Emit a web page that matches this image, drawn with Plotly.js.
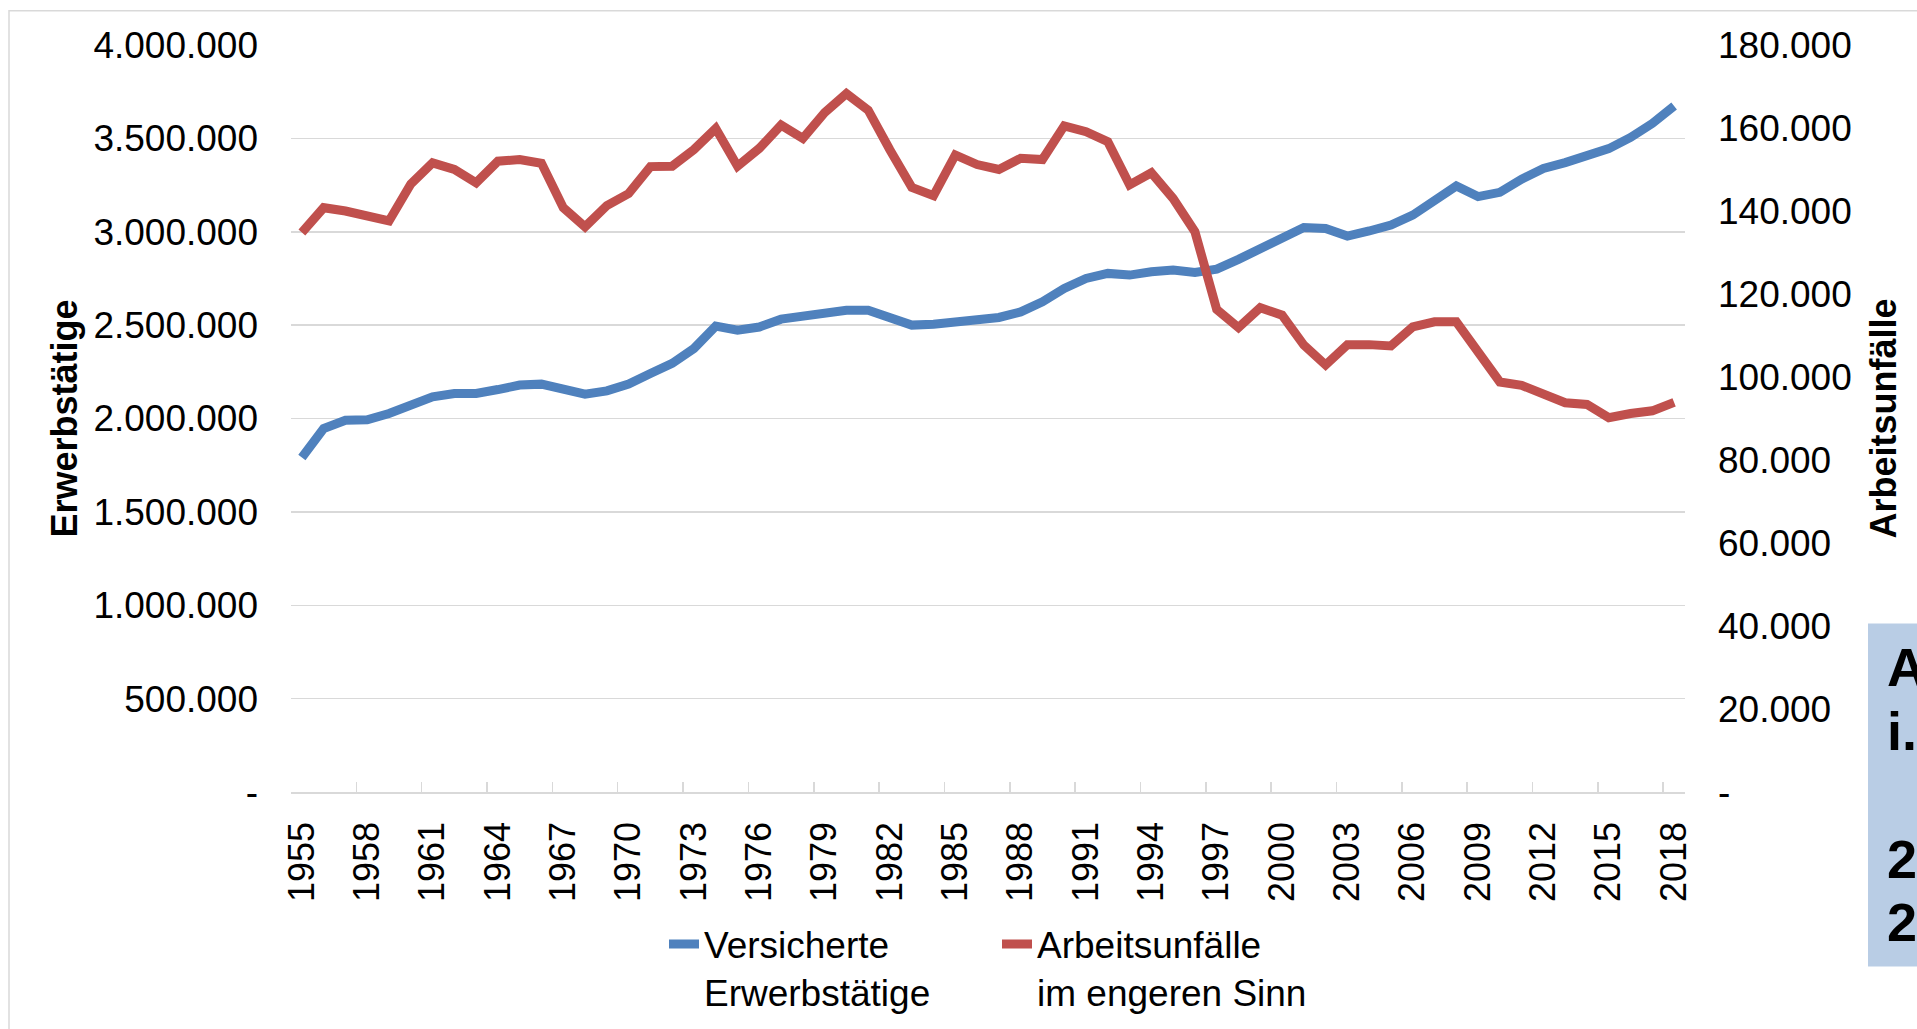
<!DOCTYPE html>
<html>
<head>
<meta charset="utf-8">
<script src="https://cdn.plot.ly/plotly-3.0.1.min.js"></script>
<style>
  html, body { margin: 0; padding: 0; background: #ffffff; overflow: hidden; }
  #chart { width: 1917px; height: 1029px; }
</style>
</head>
<body>
<div id="chart"></div>
<script>
// ---- data ----
const years = [
  "1955","1956","1957","1958","1959","1960","1961","1962","1963","1964",
  "1965","1966","1967","1968","1969","1970","1971","1972","1973","1974",
  "1975","1976","1977","1978","1979","1980","1981","1982","1983","1984",
  "1985","1986","1987","1988","1989","1990","1991","1992","1993","1994",
  "1995","1996","1997","1998","1999","2000","2001","2002","2003","2004",
  "2005","2006","2007","2008","2009","2010","2011","2012","2013","2014",
  "2015","2016","2017","2018"
];
const versicherteErwerbstaetige = [
  1791000,1946000,1991000,1993000,2027000,2071000,2116000,2134000,2134000,2155000,
  2179000,2184000,2152000,2130000,2148000,2184000,2241000,2295000,2375000,2495000,
  2473000,2490000,2532000,2550000,2566000,2580000,2580000,2541000,2500000,2505000,
  2518000,2536000,2541000,2571000,2625000,2696000,2750000,2777000,2768000,2786000,
  2795000,2782000,2800000,2852000,2911000,2959000,3023000,3018000,2977000,3004000,
  3036000,3089000,3164000,3245000,3188000,3211000,3282000,3339000,3370000,3402000,
  3445000,3505000,3580000,3673000
];
const arbeitsunfaelle = [
  134800,140800,140000,139000,137600,146500,151600,150000,146800,152000,
  152400,151500,140800,136200,141300,144200,150700,150800,154800,159900,
  150800,155100,160700,157500,163700,168300,164300,154700,145700,143700,
  153500,151200,150000,152700,152400,160500,159100,156700,146300,149200,
  143000,135000,116300,111900,116700,114900,107700,102900,107800,107800,
  107500,112100,113300,113300,105700,98800,98000,96000,93800,93400,
  90200,91200,91850,93900
];
const xTickYears = ["1955","1958","1961","1964","1967","1970","1973","1976","1979","1982",
  "1985","1988","1991","1994","1997","2000","2003","2006","2009","2012","2015","2018"];
const leftTickVals = [0,500000,1000000,1500000,2000000,2500000,3000000,3500000,4000000];
const leftTickText = ["-","500.000","1.000.000","1.500.000","2.000.000","2.500.000","3.000.000","3.500.000","4.000.000"];
const rightTickVals = [0,20000,40000,60000,80000,100000,120000,140000,160000,180000];
const rightTickText = ["-","20.000","40.000","60.000","80.000","100.000","120.000","140.000","160.000","180.000"];
const seriesNames = ["Versicherte<br>Erwerbstätige", "Arbeitsunfälle<br>im engeren Sinn"];
const boxLines = ["A", "i.", "2", "2"];

// ---- layout geometry (pixels) ----
const W = 1917, H = 1029;
const ML = 291, MR = 232, MT = 45, MB = 236.5;
const PW = W - ML - MR, PH = H - MT - MB;
const px = v => (v - ML) / PW;
const py = v => (H - MB - v) / PH;

const FONT = "Liberation Sans, Arial, sans-serif";
const GRID = "#d9d9d9";

const traces = [
  {
    type: "scatter", mode: "lines", name: seriesNames[0],
    x: years, y: versicherteErwerbstaetige, yaxis: "y",
    line: { color: "#4f81bd", width: 9 },
    hoverinfo: "skip"
  },
  {
    type: "scatter", mode: "lines", name: seriesNames[1],
    x: years, y: arbeitsunfaelle, yaxis: "y2",
    line: { color: "#c0504d", width: 9 },
    hoverinfo: "skip"
  }
];

const boxY = [667, 731, 860, 923];
const annotations = boxLines.map((t, i) => ({
  xref: "paper", yref: "paper",
  x: px(1885), y: py(boxY[i]),
  xanchor: "left", yanchor: "middle",
  text: "<b>" + t + "</b>", showarrow: false,
  font: { family: FONT, size: 54, color: "#000000" }
}));

const layout = {
  width: W, height: H,
  margin: { l: ML, r: MR, t: MT, b: MB, pad: 0, autoexpand: false },
  paper_bgcolor: "#ffffff", plot_bgcolor: "#ffffff",
  font: { family: FONT, size: 36, color: "#000000" },
  showlegend: true,
  legend: {
    orientation: "h", x: px(664), y: py(914), xanchor: "left", yanchor: "top",
    valign: "top", font: { family: FONT, size: 37, color: "#000000" },
    entrywidth: 288, entrywidthmode: "pixels",
    itemwidth: 30, bgcolor: "rgba(0,0,0,0)", tracegroupgap: 0
  },
  xaxis: {
    type: "category", categoryorder: "array", categoryarray: years,
    range: [-0.5, years.length - 0.5],
    tickmode: "array", tickvals: xTickYears, ticktext: xTickYears,
    tickson: "boundaries", ticks: "inside", ticklen: 10, tickwidth: 1.5, tickcolor: GRID,
    tickangle: -90, ticklabelstandoff: 14,
    showline: true, linecolor: GRID, linewidth: 1.5,
    showgrid: false, zeroline: false, automargin: false,
    tickfont: { family: FONT, size: 36, color: "#000000" }
  },
  yaxis: {
    range: [0, 4000000], tickmode: "array", tickvals: leftTickVals, ticktext: leftTickText,
    showgrid: true, gridcolor: GRID, gridwidth: 1.5, zeroline: false, showline: false,
    ticks: "", ticklabelstandoff: 32, automargin: false,
    tickfont: { family: FONT, size: 37, color: "#000000" },
    title: { text: "<b>Erwerbstätige</b>", standoff: 4, font: { family: FONT, size: 36, color: "#000000" } }
  },
  yaxis2: {
    range: [0, 180000], overlaying: "y", side: "right",
    tickmode: "array", tickvals: rightTickVals, ticktext: rightTickText,
    showgrid: false, zeroline: false, showline: false,
    ticks: "", ticklabelstandoff: 32, automargin: false,
    tickfont: { family: FONT, size: 37, color: "#000000" },
    title: { text: "<b>Arbeitsunfälle</b>", standoff: 20, font: { family: FONT, size: 36, color: "#000000" } }
  },
  shapes: [
    { type: "rect", xref: "paper", yref: "paper", layer: "below",
      x0: px(9), x1: px(1960), y0: py(10.7), y1: py(1080),
      line: { color: GRID, width: 1.5 }, fillcolor: "rgba(0,0,0,0)" },
    { type: "rect", xref: "paper", yref: "paper", layer: "above",
      x0: px(1868), x1: px(1960), y0: py(624), y1: py(967),
      line: { width: 0 }, fillcolor: "#b9cde5" }
  ],
  annotations: annotations
};

Plotly.newPlot("chart", traces, layout, { displayModeBar: false, staticPlot: true });
</script>
</body>
</html>
